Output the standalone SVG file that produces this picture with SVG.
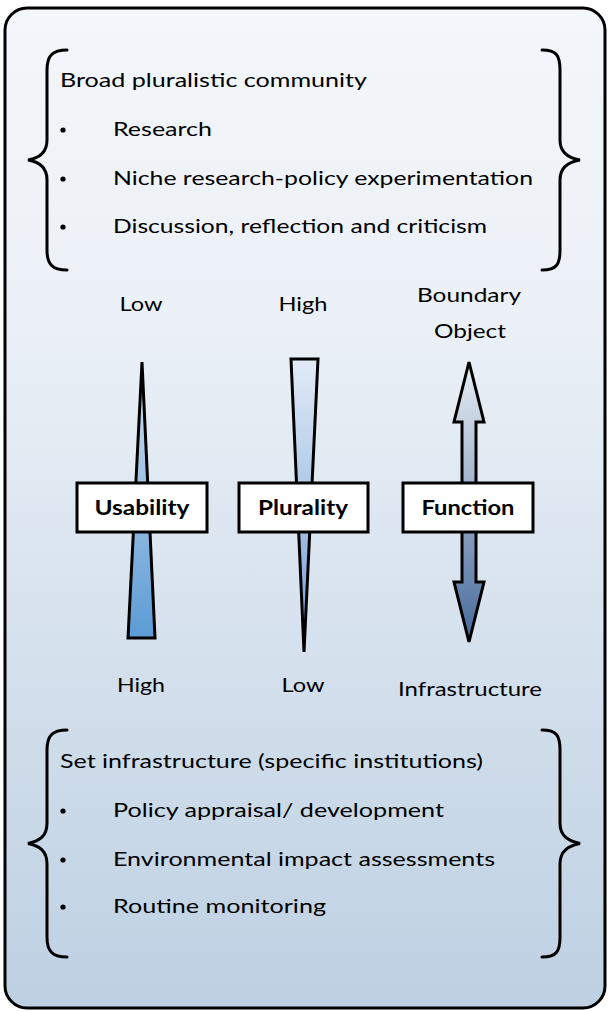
<svg xmlns="http://www.w3.org/2000/svg" width="610" height="1011" viewBox="0 0 610 1011">
<defs>
<linearGradient id="bg" x1="0" y1="0" x2="0" y2="1">
<stop offset="0" stop-color="#f3f6fa"/>
<stop offset="0.3" stop-color="#ecf1f7"/>
<stop offset="1" stop-color="#bdd0e2"/>
</linearGradient>
<linearGradient id="gU" x1="0" y1="0" x2="0" y2="1">
<stop offset="0" stop-color="#d3e1f2"/>
<stop offset="1" stop-color="#5b9bd5"/>
</linearGradient>
<linearGradient id="gP" x1="0" y1="0" x2="0" y2="1">
<stop offset="0" stop-color="#e2ebf6"/>
<stop offset="1" stop-color="#6f9fd8"/>
</linearGradient>
<linearGradient id="gF" x1="0" y1="0" x2="0" y2="1">
<stop offset="0" stop-color="#e8eef4"/>
<stop offset="1" stop-color="#46699a"/>
</linearGradient>
<style>
text{font-family:Lato,"Open Sans","Liberation Sans",sans-serif;font-size:20px;fill:#000}
.c{text-anchor:middle}
.b{font-weight:bold}
.brace{fill:none;stroke:#000;stroke-width:3;stroke-linecap:round}
.shape{stroke:#000;stroke-width:3;stroke-linejoin:miter}
.box{fill:#fff;stroke:#000;stroke-width:3}
</style>
</defs>
<rect id="frame" x="5" y="8" width="600" height="1000" rx="22" fill="url(#bg)" stroke="#000" stroke-width="3"/>

<g id="top-group">
<path class="brace" d="M67,50 C52,50 47,56 47,70 L47,140 C47,152 40,158 28,160 C40,162 47,168 47,180 L47,250 C47,264 52,270 67,270"/>
<path class="brace" d="M542,50 C557,50 560,56 560,70 L560,140 C560,152 568,158 580,160 C568,162 560,168 560,180 L560,250 C560,264 557,270 542,270"/>
<text x="60" y="87" textLength="307" lengthAdjust="spacingAndGlyphs">Broad pluralistic community</text>
<circle cx="63" cy="130" r="2.6"/>
<circle cx="63" cy="179" r="2.6"/>
<circle cx="63" cy="227" r="2.6"/>
<text x="113" y="136" textLength="99" lengthAdjust="spacingAndGlyphs">Research</text>
<text x="113" y="185" textLength="420" lengthAdjust="spacingAndGlyphs">Niche research-policy experimentation</text>
<text x="113" y="233" textLength="374" lengthAdjust="spacingAndGlyphs">Discussion, reflection and criticism</text>
</g>

<g id="connectors">
<polygon class="shape" fill="url(#gU)" points="142,362 155,638 128,638"/>
<polygon class="shape" fill="url(#gP)" points="291,359 318,359 304,652"/>
<polygon class="shape" fill="url(#gF)" points="469,362 484,422 476,422 476,582 484,582 469,642 454,582 462,582 462,422 454,422"/>
</g>

<g id="usability">
<text class="c" x="141" y="311" textLength="43" lengthAdjust="spacingAndGlyphs">Low</text>
<rect class="box" x="77" y="483" width="130" height="49"/>
<text class="c b" x="142" y="515" textLength="95" lengthAdjust="spacingAndGlyphs">Usability</text>
<text class="c" x="141" y="692" textLength="48" lengthAdjust="spacingAndGlyphs">High</text>
</g>

<g id="plurality">
<text class="c" x="303" y="311" textLength="49" lengthAdjust="spacingAndGlyphs">High</text>
<rect class="box" x="239" y="483" width="129" height="49"/>
<text class="c b" x="303" y="515" textLength="90" lengthAdjust="spacingAndGlyphs">Plurality</text>
<text class="c" x="303" y="692" textLength="43" lengthAdjust="spacingAndGlyphs">Low</text>
</g>

<g id="function">
<text class="c" x="469" y="302" textLength="104" lengthAdjust="spacingAndGlyphs">Boundary</text>
<text class="c" x="470" y="338" textLength="72" lengthAdjust="spacingAndGlyphs">Object</text>
<rect class="box" x="403" y="483" width="130" height="49"/>
<text class="c b" x="468" y="515" textLength="93" lengthAdjust="spacingAndGlyphs">Function</text>
<text class="c" x="470" y="696" textLength="144" lengthAdjust="spacingAndGlyphs">Infrastructure</text>
</g>

<g id="bottom-group">
<path class="brace" d="M67,730 C52,730 47,736 47,750 L47,823 C47,836 40,841 28,843.5 C40,846 47,851 47,864 L47,937 C47,951 52,957 67,957"/>
<path class="brace" d="M542,730 C557,730 560,736 560,750 L560,823 C560,836 568,841 580,843.5 C568,846 560,851 560,864 L560,937 C560,951 557,957 542,957"/>
<text x="60" y="768" textLength="423" lengthAdjust="spacingAndGlyphs">Set infrastructure (specific institutions)</text>
<circle cx="63" cy="811" r="2.6"/>
<circle cx="63" cy="860" r="2.6"/>
<circle cx="63" cy="907" r="2.6"/>
<text x="113" y="817" textLength="331" lengthAdjust="spacingAndGlyphs">Policy appraisal/ development</text>
<text x="113" y="866" textLength="382" lengthAdjust="spacingAndGlyphs">Environmental impact assessments</text>
<text x="113" y="913" textLength="213" lengthAdjust="spacingAndGlyphs">Routine monitoring</text>
</g>
</svg>
